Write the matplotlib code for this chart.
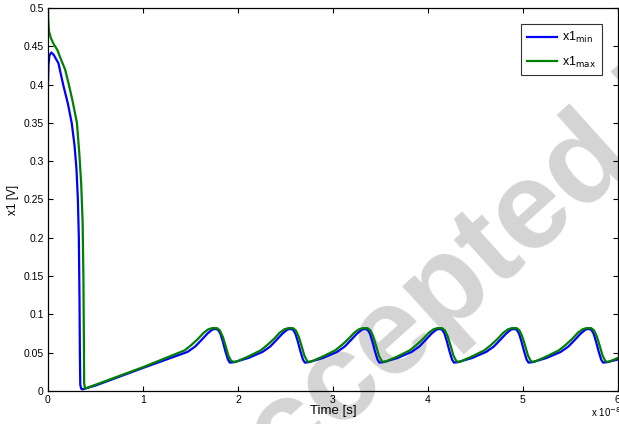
import matplotlib
matplotlib.use("Agg")
import matplotlib.pyplot as plt

# time in units of 1e-8 s
t_min = [0.0, 0.005, 0.015, 0.035, 0.06, 0.11, 0.16, 0.21, 0.25, 0.28, 0.30, 0.315, 0.325, 0.332, 0.336,
         0.34, 0.35, 0.36,
         0.5, 1.0, 1.47,
         1.55, 1.62, 1.68, 1.73, 1.76, 1.79, 1.815, 1.84, 1.87, 1.895, 1.915,
         1.96, 2.11, 2.26, 2.34, 2.41, 2.47, 2.52, 2.55, 2.58, 2.605, 2.63, 2.66, 2.685, 2.705,
         2.745, 2.895, 3.045, 3.125, 3.195, 3.255, 3.305, 3.335, 3.365, 3.39, 3.415, 3.445, 3.47, 3.49,
         3.53, 3.68, 3.83, 3.91, 3.98, 4.04, 4.09, 4.12, 4.15, 4.175, 4.20, 4.23, 4.255, 4.275,
         4.315, 4.465, 4.615, 4.695, 4.765, 4.825, 4.875, 4.905, 4.935, 4.96, 4.985, 5.015, 5.04, 5.06,
         5.10, 5.25, 5.40, 5.48, 5.55, 5.61, 5.66, 5.69, 5.72, 5.745, 5.77, 5.80, 5.825, 5.845,
         5.885, 6.0]
x1_min = [0.40, 0.425, 0.438, 0.442, 0.439, 0.428, 0.40, 0.375, 0.35, 0.32, 0.29, 0.25, 0.20, 0.12, 0.05,
          0.008, 0.003, 0.002,
          0.007, 0.030, 0.051,
          0.058, 0.067, 0.075, 0.080, 0.081, 0.080, 0.075, 0.065, 0.051, 0.041, 0.037,
          0.0375, 0.043, 0.051, 0.058, 0.067, 0.075, 0.080, 0.081, 0.080, 0.075, 0.065, 0.051, 0.041, 0.037,
          0.0375, 0.043, 0.051, 0.058, 0.067, 0.075, 0.080, 0.081, 0.080, 0.075, 0.065, 0.051, 0.041, 0.037,
          0.0375, 0.043, 0.051, 0.058, 0.067, 0.075, 0.080, 0.081, 0.080, 0.075, 0.065, 0.051, 0.041, 0.037,
          0.0375, 0.043, 0.051, 0.058, 0.067, 0.075, 0.080, 0.081, 0.080, 0.075, 0.065, 0.051, 0.041, 0.037,
          0.0375, 0.043, 0.051, 0.058, 0.067, 0.075, 0.080, 0.081, 0.080, 0.075, 0.065, 0.051, 0.041, 0.037,
          0.0375, 0.041]

t_max = [0.0, 0.003, 0.01, 0.03, 0.06, 0.10, 0.13, 0.18, 0.22, 0.26, 0.305, 0.33, 0.35, 0.365, 0.373,
         0.378, 0.381, 0.39,
         1.0, 1.44,
         1.51, 1.58, 1.64, 1.69, 1.73, 1.78, 1.81, 1.84, 1.87, 1.90, 1.93,
         1.96, 1.99, 2.11, 2.24, 2.31, 2.38, 2.44, 2.49, 2.53, 2.58, 2.61, 2.64, 2.67, 2.70, 2.73,
         2.745, 2.775, 2.895, 3.025, 3.095, 3.165, 3.225, 3.275, 3.315, 3.365, 3.395, 3.425, 3.455, 3.485, 3.515,
         3.53, 3.56, 3.68, 3.81, 3.88, 3.95, 4.01, 4.06, 4.10, 4.15, 4.18, 4.21, 4.24, 4.27, 4.30,
         4.315, 4.345, 4.465, 4.595, 4.665, 4.735, 4.795, 4.845, 4.885, 4.935, 4.965, 4.995, 5.025, 5.055, 5.085,
         5.10, 5.13, 5.25, 5.38, 5.45, 5.52, 5.58, 5.63, 5.67, 5.72, 5.75, 5.78, 5.81, 5.84, 5.87,
         5.885, 5.915, 6.0]
x1_max = [0.50, 0.485, 0.47, 0.461, 0.453, 0.445, 0.435, 0.42, 0.40, 0.378, 0.35, 0.31, 0.27, 0.22, 0.15,
          0.07, 0.01, 0.003,
          0.031, 0.053,
          0.060, 0.068, 0.076, 0.0805, 0.082, 0.082, 0.079, 0.071, 0.059, 0.046, 0.039,
          0.038, 0.0385, 0.045, 0.053, 0.060, 0.068, 0.076, 0.0805, 0.082, 0.082, 0.079, 0.071, 0.059, 0.046, 0.039,
          0.038, 0.0385, 0.045, 0.053, 0.060, 0.068, 0.076, 0.0805, 0.082, 0.082, 0.079, 0.071, 0.059, 0.046, 0.039,
          0.038, 0.0385, 0.045, 0.053, 0.060, 0.068, 0.076, 0.0805, 0.082, 0.082, 0.079, 0.071, 0.059, 0.046, 0.039,
          0.038, 0.0385, 0.045, 0.053, 0.060, 0.068, 0.076, 0.0805, 0.082, 0.082, 0.079, 0.071, 0.059, 0.046, 0.039,
          0.038, 0.0385, 0.045, 0.053, 0.060, 0.068, 0.076, 0.0805, 0.082, 0.082, 0.079, 0.071, 0.059, 0.046, 0.039,
          0.038, 0.0385, 0.043]

xticks = [0, 1, 2, 3, 4, 5, 6]
yticks = [0, 0.05, 0.1, 0.15, 0.2, 0.25, 0.3, 0.35, 0.4, 0.45, 0.5]

plt.rcParams['font.family'] = ['Liberation Sans', 'DejaVu Sans']

fig = plt.figure(figsize=(6.19, 4.24), dpi=100)
ax = fig.add_axes([0.0775, 0.078, 0.9205, 0.903])

# watermark, behind everything
fig.text(219 / 619, 1 - 541 / 424, 'Accepted Manuscript', fontsize=90, fontweight='bold',
         color='#d4d4d4', rotation=42, rotation_mode='anchor', ha='left', va='baseline',
         zorder=-1)
ax.set_facecolor('none')

ax.plot(t_min, x1_min, color='#0000ff', lw=1.6, label='x1$_{\\mathrm{min}}$')
ax.plot(t_max, x1_max, color='#008000', lw=1.6, label='x1$_{\\mathrm{max}}$')

ax.set_xlim(0, 6)
ax.set_ylim(0, 0.5)
ax.set_xticks(xticks)
ax.set_yticks(yticks)
ax.set_xticklabels(['%g' % v for v in xticks])
ax.set_yticklabels(['%g' % v for v in yticks])
ax.tick_params(direction='in', top=True, right=True, length=3.5, width=0.8,
               labelsize=7.5, colors='black', pad=3)
for s in ax.spines.values():
    s.set_linewidth(0.9)

ax.set_xlabel('Time [s]', fontsize=9.5, labelpad=0)
ax.set_ylabel('x1 [V]', fontsize=8.5, labelpad=3)
fig.text(0.955, 0.012, 'x 10$^{-8}$', fontsize=7, ha='left', va='bottom')

leg = ax.legend(loc='upper right', fontsize=9, handlelength=2.4, frameon=True,
                fancybox=False, borderaxespad=1.3, labelspacing=0.75, handletextpad=0.4,
                borderpad=0.45)
leg.get_frame().set_edgecolor('black')
leg.get_frame().set_linewidth(0.8)

fig.savefig('out.png', dpi=100)
